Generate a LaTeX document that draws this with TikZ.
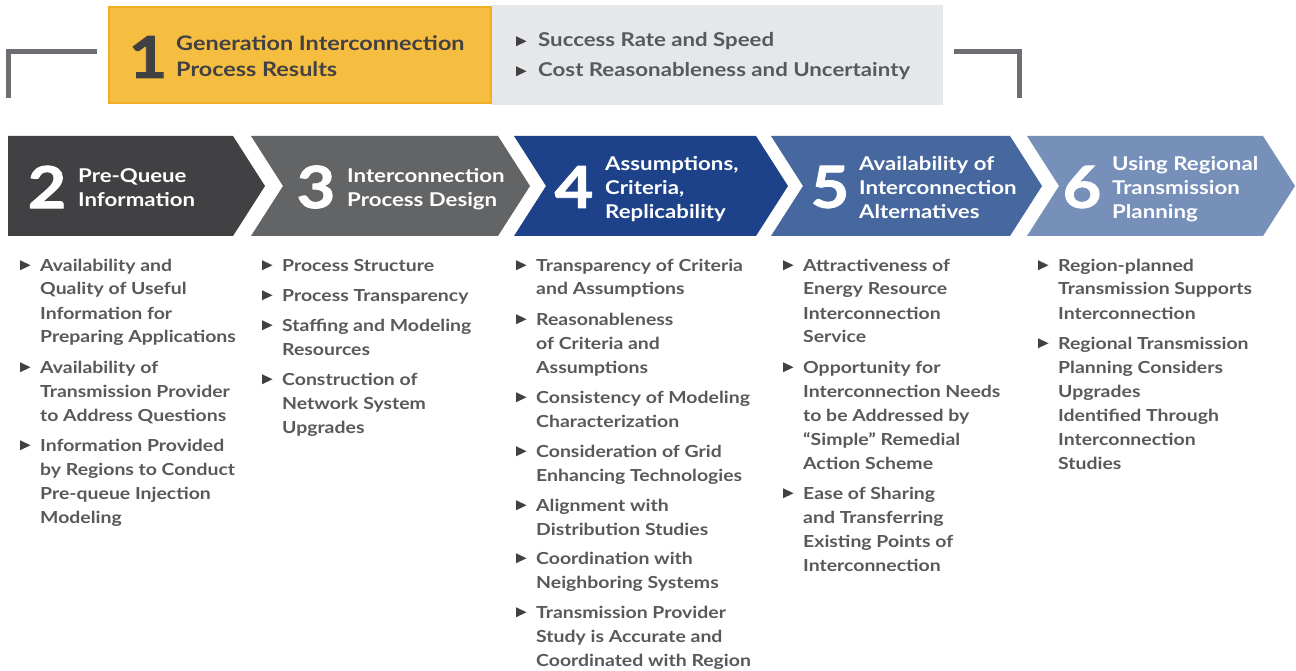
\documentclass[tikz,border=0pt]{standalone}
\usepackage{fontspec}
\setmainfont{Lato}[FakeStretch=1.17]
\newfontfamily\numfont{Lato}[FakeStretch=1.15,BoldFeatures={FakeBold=1.5}]
\definecolor{cTwo}{HTML}{414042}
\definecolor{cThree}{HTML}{636466}
\definecolor{cFour}{HTML}{1D4289}
\definecolor{cFive}{HTML}{47689E}
\definecolor{cSix}{HTML}{7690BA}
\definecolor{brk}{HTML}{6D6E71}
\definecolor{yel}{HTML}{F6BE41}
\definecolor{yelb}{HTML}{F2AF26}
\definecolor{gbox}{HTML}{E6E7E8}
\definecolor{txt}{HTML}{58595B}
\definecolor{dark}{HTML}{414042}
\newcommand{\stk}[2][24pt]{\vtop{\hsize=340pt\baselineskip=#1\raggedright\noindent #2}}
\newcommand{\tri}[2][-20pt]{\fill[bulc] ([shift={(#1,0.75pt)}]#2.base west) -- ++(0,10pt) -- ++(10.5pt,-5pt) -- cycle;}
\begin{document}
\begin{tikzpicture}[x=1pt,y=-1pt,
  bulc/.style={fill=dark},
  bracket/.style={draw=brk,line width=5pt,line cap=butt,line join=miter},
  numtxt/.style={inner sep=0pt,font=\numfont\bfseries\fontsize{58}{58}\selectfont,text=white},
  ttl/.style={inner sep=0pt,anchor=base west,font=\bfseries\fontsize{19}{24}\selectfont,text=white},
  itemtxt/.style={inner sep=0pt,anchor=base west,font=\bfseries\fontsize{16.6}{24}\selectfont,text=txt}
]
\useasboundingbox (0,0) rectangle (1296,671);
\fill[white] (0,0) rectangle (1296,671);

% top banner
\fill[gbox] (491,5) rectangle (943,105);
\filldraw[fill=yel,draw=yelb,line width=2pt] (109,7) rectangle (491,103);
\draw[bracket] (8,98) |- (97,52);
\draw[bracket] (954,52) -| (1019.5,98);
\node[numtxt,text=dark] (n1) at (148,57) {1};
\node[ttl,text=dark,font=\bfseries\fontsize{20}{26}\selectfont] (t1) at (176,51) {\stk[26pt]{Generation Interconnection\\Process Results}};
\node[itemtxt,font=\bfseries\fontsize{19}{24}\selectfont] (g1) at (538,47) {Success Rate and Speed};
\node[itemtxt,font=\bfseries\fontsize{19}{24}\selectfont] (g2) at (538,77) {Cost Reasonableness and Uncertainty};
\tri[-22pt]{g1}
\tri[-22pt]{g2}

% chevrons
\fill[cTwo] (8,136) -- (233,136) -- (265,186) -- (233,236) -- (8,236) -- cycle;
\fill[cThree] (251,136) -- (498,136) -- (530,186) -- (498,236) -- (251,236) -- (283,186) -- cycle;
\fill[cFour] (514,136) -- (756,136) -- (788,186) -- (756,236) -- (514,236) -- (546,186) -- cycle;
\fill[cFive] (771,136) -- (1010,136) -- (1042,186) -- (1010,236) -- (771,236) -- (803,186) -- cycle;
\fill[cSix] (1027,136) -- (1263,136) -- (1295,186) -- (1263,236) -- (1027,236) -- (1059,186) -- cycle;

\node[numtxt] (n2) at (47,187) {2};
\node[numtxt] (n3) at (316,187) {3};
\node[numtxt] (n4) at (574,187) {4};
\node[numtxt] (n5) at (830,187) {5};
\node[numtxt] (n6) at (1082,187) {6};

\node[ttl] (t2) at (78,183) {\stk{Pre-Queue\\Information}};
\node[ttl] (t3) at (347,183) {\stk{Interconnection\\Process Design}};
\node[ttl] (t4) at (605,171) {\stk{Assumptions,\\Criteria,\\Replicability}};
\node[ttl] (t5) at (859,171) {\stk{Availability of\\Interconnection\\Alternatives}};
\node[ttl] (t6) at (1112,171) {\stk{Using Regional\\Transmission\\Planning}};

% column 1
\node[itemtxt] (a1) at (40,271) {\stk{Availability and\\Quality of Useful\\Information for\\Preparing Applications}};
\node[itemtxt] (a2) at (40,373) {\stk{Availability of\\Transmission Provider\\to Address Questions}};
\node[itemtxt] (a3) at (40,451) {\stk{Information Provided\\by Regions to Conduct\\Pre-queue Injection\\Modeling}};
% column 2
\node[itemtxt] (b1) at (282,271) {\stk{Process Structure}};
\node[itemtxt] (b2) at (282,301) {\stk{Process Transparency}};
\node[itemtxt] (b3) at (282,331) {\stk{Staffing and Modeling\\Resources}};
\node[itemtxt] (b4) at (282,385) {\stk{Construction of\\Network System\\Upgrades}};
% column 3
\node[itemtxt] (c1) at (536,271) {\stk{Transparency of Criteria\\and Assumptions}};
\node[itemtxt] (c2) at (536,325) {\stk{Reasonableness\\of Criteria and\\Assumptions}};
\node[itemtxt] (c3) at (536,403) {\stk{Consistency of Modeling\\Characterization}};
\node[itemtxt] (c4) at (536,457) {\stk{Consideration of Grid\\Enhancing Technologies}};
\node[itemtxt] (c5) at (536,511) {\stk{Alignment with\\Distribution Studies}};
\node[itemtxt] (c6) at (536,564) {\stk{Coordination with\\Neighboring Systems}};
\node[itemtxt] (c7) at (536,618) {\stk{Transmission Provider\\Study is Accurate and\\Coordinated with Region}};
% column 4
\node[itemtxt] (d1) at (803,271) {\stk{Attractiveness of\\Energy Resource\\Interconnection\\Service}};
\node[itemtxt] (d2) at (803,373) {\stk{Opportunity for\\Interconnection Needs\\to be Addressed by\\“Simple” Remedial\\Action Scheme}};
\node[itemtxt] (d3) at (803,499) {\stk{Ease of Sharing\\and Transferring\\Existing Points of\\Interconnection}};
% column 5
\node[itemtxt] (e1) at (1058,271) {\stk{Region-planned\\Transmission Supports\\Interconnection}};
\node[itemtxt] (e2) at (1058,349) {\stk{Regional Transmission\\Planning Considers\\Upgrades\\Identified Through\\Interconnection\\Studies}};

\tri{a1}\tri{a2}\tri{a3}
\tri{b1}\tri{b2}\tri{b3}\tri{b4}
\tri{c1}\tri{c2}\tri{c3}\tri{c4}\tri{c5}\tri{c6}\tri{c7}
\tri{d1}\tri{d2}\tri{d3}
\tri{e1}\tri{e2}
\end{tikzpicture}
\end{document}
